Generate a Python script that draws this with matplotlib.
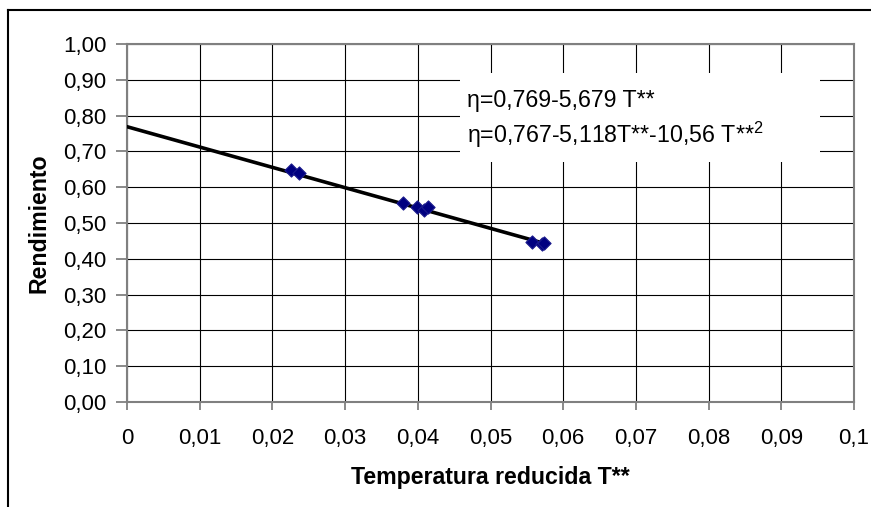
import matplotlib
matplotlib.use("Agg")
import matplotlib.pyplot as plt
import numpy as np
from matplotlib.lines import Line2D
from matplotlib.patches import Rectangle

plt.rcParams['font.family'] = ['Liberation Sans', 'DejaVu Sans']
plt.rcParams['mathtext.fontset'] = 'custom'
plt.rcParams['mathtext.rm'] = 'Liberation Sans'

# Data
t_reducida = [0.0226, 0.0237, 0.0379, 0.0399, 0.0409, 0.0414, 0.0557, 0.0571, 0.0574]
rendimiento = [0.648, 0.640, 0.555, 0.544, 0.536, 0.546, 0.447, 0.440, 0.443]
fit_a, fit_b = 0.769, -5.679
fit_x = [0.0, 0.0575]
x_ticks = [0, 0.01, 0.02, 0.03, 0.04, 0.05, 0.06, 0.07, 0.08, 0.09, 0.1]
x_ticklabels = ["0", "0,01", "0,02", "0,03", "0,04", "0,05", "0,06", "0,07", "0,08", "0,09", "0,1"]
y_ticks = [0.0, 0.1, 0.2, 0.3, 0.4, 0.5, 0.6, 0.7, 0.8, 0.9, 1.0]
y_ticklabels = ["0,00", "0,10", "0,20", "0,30", "0,40", "0,50", "0,60", "0,70", "0,80", "0,90", "1,00"]
eq1 = "η=0,769-5,679 T**"
eq2 = "η=0,767-5,118T**-10,56 T**$^{\\mathrm{2}}$"

W, H = 871, 507
fig = plt.figure(figsize=(W/100, H/100), dpi=100)
ax = fig.add_axes([127/W, 1-402/H, (854-127)/W, (402-44)/H])

ax.set_xlim(0, 0.1)
ax.set_ylim(0, 1.0)
ax.set_xticks(x_ticks)
ax.set_xticklabels(x_ticklabels)
ax.set_yticks(y_ticks)
ax.set_yticklabels(y_ticklabels)
ax.set_axisbelow(True)
ax.grid(True, color='black', linewidth=0.8)

for s in ax.spines.values():
    s.set_color('#808080')
    s.set_linewidth(1.5)
ax.tick_params(axis='both', colors='#808080', labelcolor='black', labelsize=16, width=1.3)
ax.tick_params(axis='x', length=6, pad=13)
ax.tick_params(axis='y', length=8, pad=7)

fx = np.array(fit_x)
ax.plot(fx, fit_a + fit_b*fx, color='black', linewidth=2.6, zorder=3)
ax.scatter(t_reducida, rendimiento, marker='D', s=45, facecolor='#000080',
           edgecolor='#1a1a8c', linewidth=0.8, zorder=4)

ax.add_patch(Rectangle((0.458, 0.670), 0.495, 0.249, transform=ax.transAxes,
                       facecolor='white', edgecolor='none', zorder=2))
ax.text(467/W, 1-100/H, eq1, transform=fig.transFigure, fontsize=16.7, va='center', ha='left', zorder=5)
ax.text(467/W, 1-135/H, eq2, transform=fig.transFigure, fontsize=16.7, va='center', ha='left', zorder=5)

ax.set_xlabel("Temperatura reducida T**", fontsize=16.7, fontweight='bold', labelpad=12)
ax.set_ylabel("Rendimiento", fontsize=16.7, fontweight='bold', labelpad=9)

# outer chart frame (cropped)
fig.add_artist(Line2D([8/W, 8/W], [0, 1-10/H], transform=fig.transFigure, color='black', linewidth=1.5))
fig.add_artist(Line2D([8/W, 1], [1-10/H, 1-10/H], transform=fig.transFigure, color='black', linewidth=1.5))

fig.savefig("out.png", dpi=100)
